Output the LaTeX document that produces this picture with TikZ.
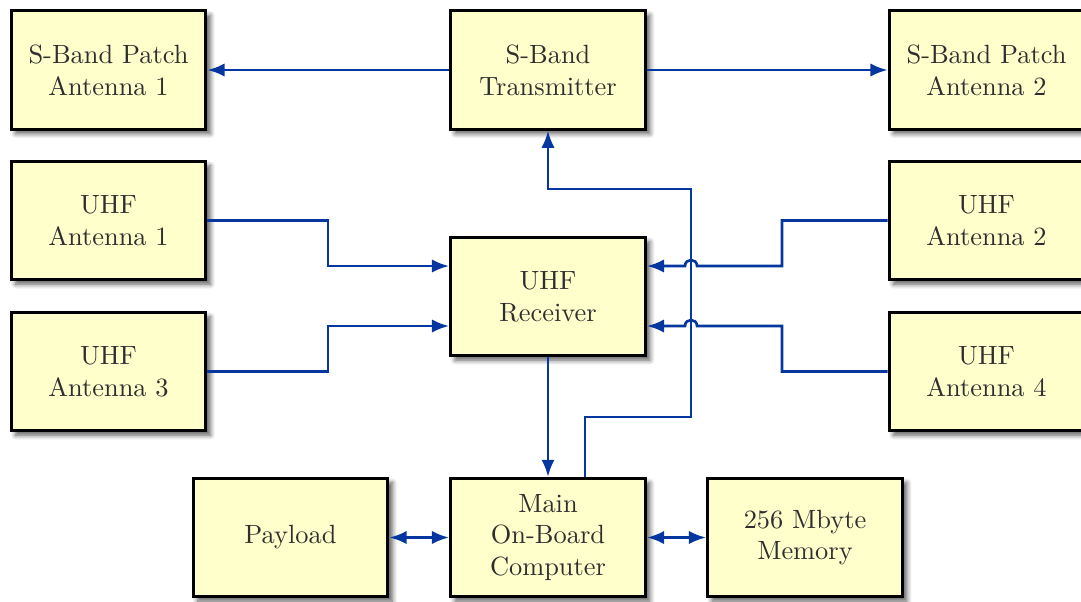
\documentclass[tikz,border=0pt]{standalone}
\usetikzlibrary{arrows.meta,shadows.blur,calc}
\definecolor{boxfill}{HTML}{FFFFCC}
\definecolor{wireblue}{HTML}{0636A0}
\definecolor{txtgray}{HTML}{2E2E2E}
\tikzset{
  blk/.style={draw=black, line width=1.1pt, fill=boxfill, text=txtgray, align=center,
    minimum width=73.8pt, minimum height=44.8pt, inner sep=2pt,
    blur shadow={shadow xshift=1.7pt, shadow yshift=-1.7pt, shadow blur steps=6,
      shadow blur radius=1.8pt, shadow opacity=65}},
  wire/.style={draw=wireblue, line width=1pt, -{Latex[length=6.5pt,width=5pt]}},
  dwire/.style={draw=wireblue, line width=1pt, {Latex[length=6.5pt,width=5pt]}-{Latex[length=6.5pt,width=5pt]}},
}
\begin{document}
\begin{tikzpicture}[x=0.3788pt, y=-0.3788pt]
\useasboundingbox (0,0) rectangle (1081,601);
\begin{scope}
\clip (0,0) rectangle (1081,601);
\node[blk] (sbp1) at (108.5,70) {S-Band Patch\\Antenna 1};
\node[blk] (stx) at (548,70) {S-Band\\Transmitter};
\node[blk] (sbp2) at (986.5,70) {S-Band Patch\\Antenna 2};
\node[blk] (ua1) at (108.5,220.5) {UHF\\Antenna 1};
\node[blk] (ua2) at (986.5,220.5) {UHF\\Antenna 2};
\node[blk] (urx) at (548,296.5) {UHF\\Receiver};
\node[blk] (ua3) at (108.5,371.5) {UHF\\Antenna 3};
\node[blk] (ua4) at (986.5,371.5) {UHF\\Antenna 4};
\node[blk] (pay) at (290.5,537.5) {Payload};
\node[blk] (obc) at (548,537.5) {Main\\On-Board\\Computer};
\node[blk] (mem) at (805,537.5) {256 Mbyte\\Memory};

\coordinate (c1) at (328,220.5);
\coordinate (c3) at (328,371.5);
\coordinate (c2) at (782,220.5);
\coordinate (c4) at (782,371.5);

\draw[wire] (stx.west) -- (sbp1.east);
\draw[wire] (stx.east) -- (sbp2.west);

\draw[wire] (ua1.east) -- (c1) -- (c1 |- 0,266) -- (urx.west |- 0,266);
\draw[wire] (ua3.east) -- (c3) -- (c3 |- 0,326) -- (urx.west |- 0,326);

% feedback from computer to transmitter
\coordinate (o1) at (585,417);
\coordinate (o2) at (691,417);
\coordinate (o3) at (691,189);
\coordinate (o4) at (548,189);
\draw[wire] (obc.north -| o1) -- (o1) -- (o2) -- (o3) -- (o4) -- (stx.south);

% hop-over lines
\coordinate (h1r) at (697,266);
\coordinate (h1l) at (685,266);
\coordinate (h2r) at (697,326);
\coordinate (h2l) at (685,326);
\draw[wire] (ua2.west) -- (c2) -- (c2 |- 0,266) -- (h1r)
  .. controls (697,258) and (685,258) .. (h1l) -- (urx.east |- 0,266);
\draw[wire] (ua4.west) -- (c4) -- (c4 |- 0,326) -- (h2r)
  .. controls (697,318) and (685,318) .. (h2l) -- (urx.east |- 0,326);

\draw[wire] (urx.south) -- (obc.north);
\draw[dwire] (pay.east) -- (obc.west);
\draw[dwire] (obc.east) -- (mem.west);
\end{scope}
\end{tikzpicture}
\end{document}
